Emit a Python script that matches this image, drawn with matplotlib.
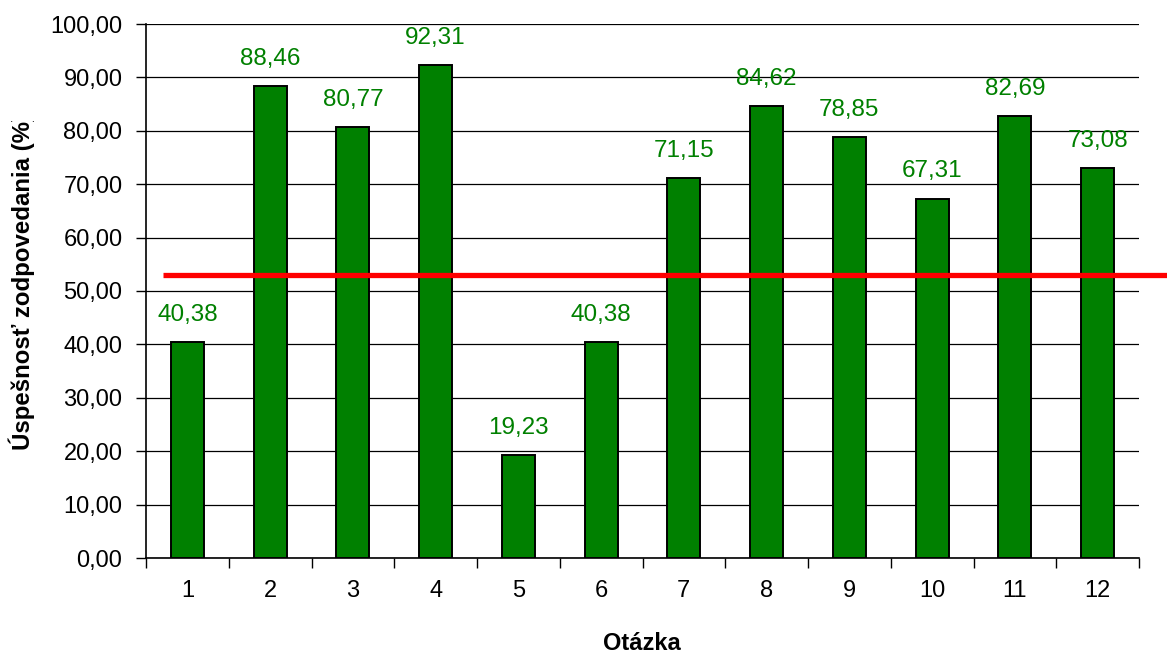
import matplotlib
matplotlib.use("Agg")
import matplotlib.pyplot as plt
from matplotlib.transforms import Bbox

plt.rcParams['font.family'] = ['Liberation Sans', 'DejaVu Sans']

# Question numbers and success rates (%)
questions = ["1", "2", "3", "4", "5", "6", "7", "8", "9", "10", "11", "12"]
success = [40.38, 88.46, 80.77, 92.31, 19.23, 40.38, 71.15, 84.62, 78.85, 67.31, 82.69, 73.08]
threshold = 53.0
y_ticks = [0, 10, 20, 30, 40, 50, 60, 70, 80, 90, 100]

W, H = 1167, 654
fig = plt.figure(figsize=(W / 100, H / 100), dpi=100)
ax = fig.add_axes([146 / W, 1 - 558 / H, (1139 - 146) / W, (558 - 24) / H])

pos = list(range(1, len(questions) + 1))
ax.bar(pos, success, width=0.40, color="#008000", edgecolor="black",
       linewidth=1.4, zorder=3)

for x, v in zip(pos, success):
    ax.annotate(f"{v:.2f}".replace(".", ","), (x, v), xytext=(0, 19.5),
                textcoords="offset points", ha="center", va="center",
                color="#008000", fontsize=17.5, zorder=5)

# Reference level across the chart
ax.plot([0.705, 13.0], [threshold, threshold], color="#ff0000", lw=3.8,
        solid_capstyle="butt", clip_on=False, zorder=4)

ax.set_xlim(0.5, len(questions) + 0.5)
ax.set_ylim(0, 100)
ax.set_yticks(y_ticks)
ax.set_yticklabels([f"{t:.2f}".replace(".", ",") for t in y_ticks], fontsize=17)
ax.yaxis.grid(True, color="black", lw=0.9, zorder=0)
ax.set_axisbelow(True)

ax.set_xticks(pos)
ax.set_xticklabels(questions, fontsize=17)
ax.set_xticks([p + 0.5 for p in [0] + pos], minor=True)
ax.tick_params(axis="x", which="major", length=0, pad=16)
ax.tick_params(axis="x", which="minor", length=7, width=1, direction="out")
ax.tick_params(axis="y", length=7, width=1, direction="out", pad=10)

for s in ("top", "right"):
    ax.spines[s].set_visible(False)
for s in ("left", "bottom"):
    ax.spines[s].set_color("black")
    ax.spines[s].set_linewidth(1.2)

fig.text(642 / W, 1 - 643 / H, "Otázka", ha="center", va="center",
         fontsize=17, fontweight="bold")
ylab = fig.text(22 / W, 1 - 281 / H, "Úspešnosť zodpovedania (%)", rotation=90,
                ha="center", va="center", fontsize=17.3, fontweight="bold")
ylab.set_clip_box(Bbox.from_extents(0, 0, 146, H - 121))
ylab.set_clip_on(True)

fig.savefig("out.png", dpi=100)
